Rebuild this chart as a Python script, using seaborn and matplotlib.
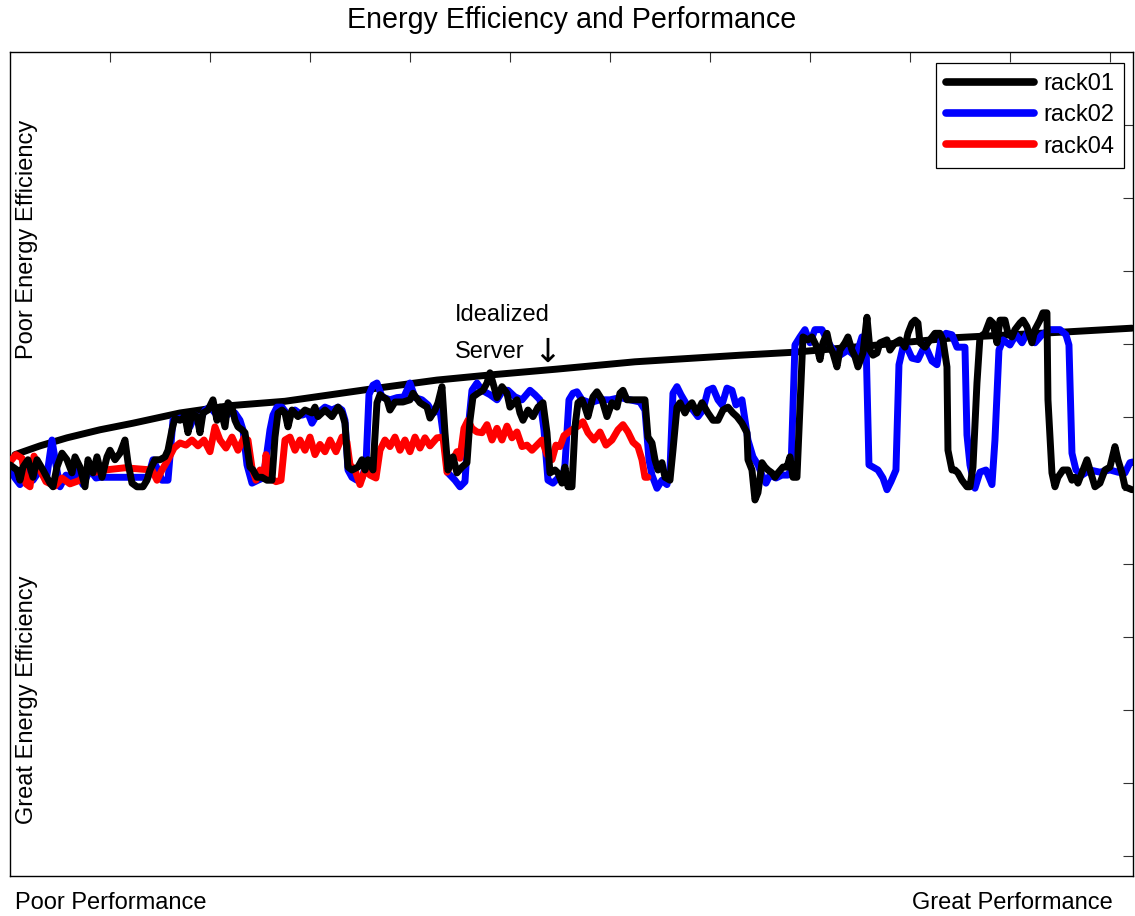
import matplotlib
matplotlib.use("Agg")
import matplotlib.pyplot as plt
import numpy as np
import pandas as pd
import seaborn as sns

# performance (x) / energy use (y) traces
rack01_perf = [
    0.000, 0.007, 0.010, 0.013, 0.018, 0.023, 0.027, 0.033, 0.040, 0.043,
    0.047, 0.052, 0.057, 0.062, 0.065, 0.070, 0.075, 0.078, 0.083, 0.087,
    0.092, 0.097, 0.100, 0.105, 0.110, 0.115, 0.118, 0.122, 0.127, 0.133,
    0.137, 0.140, 0.145, 0.150, 0.155, 0.158, 0.162, 0.165, 0.170, 0.175,
    0.178, 0.182, 0.187, 0.190, 0.193, 0.198, 0.203, 0.207, 0.210, 0.215,
    0.218, 0.222, 0.225, 0.228, 0.232, 0.235, 0.240, 0.243, 0.247, 0.252,
    0.257, 0.262, 0.265, 0.268, 0.272, 0.275, 0.278, 0.282, 0.288, 0.295,
    0.302, 0.305, 0.308, 0.315, 0.322, 0.328, 0.332, 0.335, 0.338, 0.342,
    0.348, 0.352, 0.355, 0.358, 0.363, 0.367, 0.370, 0.377, 0.380, 0.385,
    0.393, 0.400, 0.403, 0.410, 0.417, 0.420, 0.425, 0.428, 0.432, 0.435,
    0.438, 0.443, 0.447, 0.452, 0.457, 0.460, 0.463, 0.468, 0.473, 0.477,
    0.480, 0.483, 0.487, 0.492, 0.497, 0.500, 0.507, 0.510, 0.513, 0.518,
    0.523, 0.528, 0.533, 0.537, 0.540, 0.545, 0.548, 0.552, 0.555, 0.558,
    0.562, 0.565, 0.568, 0.572, 0.575, 0.578, 0.583, 0.587, 0.592, 0.597,
    0.602, 0.607, 0.610, 0.613, 0.617, 0.635, 0.638, 0.642, 0.645, 0.648,
    0.652, 0.655, 0.660, 0.663, 0.667, 0.670, 0.675, 0.678, 0.682, 0.687,
    0.692, 0.698, 0.703, 0.708, 0.713, 0.718, 0.723, 0.727, 0.732, 0.737,
    0.738, 0.742, 0.745, 0.748, 0.752, 0.755, 0.758, 0.762, 0.765, 0.768,
    0.773, 0.777, 0.780, 0.783, 0.787, 0.793, 0.798, 0.802, 0.807, 0.810,
    0.813, 0.817, 0.820, 0.823, 0.827, 0.830, 0.835, 0.838, 0.842, 0.845,
    0.848, 0.853, 0.857, 0.860, 0.863, 0.867, 0.870, 0.877, 0.880, 0.885,
    0.890, 0.895, 0.898, 0.902, 0.905, 0.908, 0.910, 0.915, 0.920, 0.925,
    0.930, 0.933, 0.937, 0.938, 0.942, 0.945, 0.948, 0.952, 0.957, 0.960,
    0.963, 0.967, 0.970, 0.975, 0.980, 0.983, 0.987, 0.990, 0.995, 0.998,
    1.002, 1.005, 1.010, 1.013, 1.017, 1.022, 1.025, 1.030, 1.033, 1.037,
    1.038, 1.042, 1.045, 1.048, 1.053, 1.058, 1.062, 1.065, 1.068, 1.073,
    1.077, 1.080, 1.085, 1.090, 1.095, 1.100, 1.105, 1.108, 1.112, 1.115,
    1.122,
]
rack01_eff = [
    0.535, 0.528, 0.514, 0.532, 0.542, 0.518, 0.542, 0.528, 0.510, 0.505,
    0.532, 0.551, 0.542, 0.524, 0.546, 0.532, 0.505, 0.542, 0.524, 0.546,
    0.518, 0.546, 0.555, 0.542, 0.551, 0.569, 0.538, 0.510, 0.505, 0.505,
    0.514, 0.528, 0.542, 0.542, 0.546, 0.555, 0.583, 0.599, 0.596, 0.601,
    0.579, 0.606, 0.601, 0.579, 0.606, 0.610, 0.624, 0.596, 0.614, 0.587,
    0.620, 0.614, 0.596, 0.587, 0.583, 0.579, 0.532, 0.528, 0.518, 0.518,
    0.514, 0.514, 0.573, 0.606, 0.610, 0.606, 0.587, 0.610, 0.601, 0.610,
    0.606, 0.614, 0.601, 0.610, 0.601, 0.614, 0.606, 0.592, 0.532, 0.528,
    0.532, 0.542, 0.528, 0.542, 0.528, 0.620, 0.631, 0.624, 0.610, 0.621,
    0.621, 0.624, 0.633, 0.620, 0.614, 0.599, 0.610, 0.620, 0.642, 0.579,
    0.528, 0.546, 0.524, 0.532, 0.538, 0.596, 0.628, 0.633, 0.637, 0.647,
    0.661, 0.647, 0.627, 0.642, 0.633, 0.614, 0.624, 0.606, 0.596, 0.610,
    0.601, 0.614, 0.620, 0.579, 0.524, 0.528, 0.524, 0.510, 0.532, 0.505,
    0.505, 0.587, 0.620, 0.624, 0.614, 0.601, 0.628, 0.635, 0.624, 0.601,
    0.620, 0.614, 0.633, 0.637, 0.624, 0.624, 0.573, 0.565, 0.542, 0.528,
    0.538, 0.518, 0.514, 0.555, 0.614, 0.620, 0.606, 0.614, 0.620, 0.606,
    0.620, 0.606, 0.596, 0.596, 0.610, 0.614, 0.606, 0.601, 0.592, 0.579,
    0.542, 0.528, 0.487, 0.497, 0.538, 0.532, 0.528, 0.524, 0.518, 0.524,
    0.532, 0.532, 0.546, 0.518, 0.518, 0.710, 0.706, 0.710, 0.696, 0.679,
    0.702, 0.715, 0.696, 0.688, 0.669, 0.692, 0.702, 0.710, 0.692, 0.683,
    0.669, 0.688, 0.737, 0.692, 0.685, 0.688, 0.702, 0.706, 0.692, 0.702,
    0.706, 0.696, 0.715, 0.729, 0.733, 0.729, 0.702, 0.696, 0.706, 0.715,
    0.715, 0.706, 0.669, 0.555, 0.528, 0.528, 0.524, 0.514, 0.505, 0.505,
    0.532, 0.647, 0.710, 0.715, 0.733, 0.729, 0.702, 0.733, 0.733, 0.715,
    0.710, 0.720, 0.729, 0.733, 0.724, 0.702, 0.720, 0.733, 0.743, 0.743,
    0.624, 0.524, 0.505, 0.518, 0.528, 0.528, 0.514, 0.518, 0.510, 0.528,
    0.542, 0.528, 0.505, 0.510, 0.528, 0.532, 0.560, 0.542, 0.524, 0.505,
    0.501,
]

rack02_perf = [
    0.000, 0.005, 0.010, 0.017, 0.023, 0.030, 0.037, 0.042, 0.046, 0.050,
    0.056, 0.062, 0.067, 0.073, 0.080, 0.086, 0.090, 0.100, 0.110, 0.120,
    0.130, 0.138, 0.143, 0.148, 0.152, 0.158, 0.163, 0.170, 0.175, 0.180,
    0.185, 0.190, 0.195, 0.200, 0.205, 0.210, 0.215, 0.220, 0.225, 0.230,
    0.233, 0.237, 0.242, 0.248, 0.253, 0.256, 0.260, 0.263, 0.267, 0.272,
    0.278, 0.285, 0.292, 0.298, 0.302, 0.308, 0.315, 0.322, 0.328, 0.332,
    0.335, 0.338, 0.342, 0.347, 0.352, 0.356, 0.359, 0.363, 0.367, 0.372,
    0.380, 0.387, 0.394, 0.400, 0.405, 0.412, 0.418, 0.423, 0.430, 0.434,
    0.438, 0.445, 0.450, 0.455, 0.459, 0.462, 0.467, 0.472, 0.480, 0.487,
    0.493, 0.498, 0.505, 0.512, 0.520, 0.525, 0.530, 0.534, 0.538, 0.543,
    0.548, 0.552, 0.555, 0.559, 0.563, 0.567, 0.572, 0.580, 0.590, 0.600,
    0.610, 0.620, 0.630, 0.635, 0.639, 0.642, 0.647, 0.652, 0.657, 0.660,
    0.663, 0.667, 0.671, 0.677, 0.683, 0.688, 0.693, 0.698, 0.703, 0.708,
    0.712, 0.717, 0.722, 0.726, 0.732, 0.735, 0.738, 0.743, 0.748, 0.752,
    0.756, 0.760, 0.766, 0.772, 0.778, 0.781, 0.785, 0.790, 0.795, 0.800,
    0.805, 0.812, 0.817, 0.823, 0.830, 0.838, 0.846, 0.852, 0.856, 0.859,
    0.863, 0.868, 0.873, 0.877, 0.881, 0.886, 0.889, 0.893, 0.897, 0.902,
    0.908, 0.915, 0.922, 0.927, 0.931, 0.936, 0.942, 0.947, 0.955, 0.957,
    0.960, 0.965, 0.970, 0.976, 0.982, 0.985, 0.989, 0.993, 1.000, 1.006,
    1.012, 1.018, 1.025, 1.032, 1.040, 1.050, 1.056, 1.059, 1.062, 1.066,
    1.072, 1.080, 1.090, 1.100, 1.108, 1.115, 1.120, 1.123,
]
rack02_eff = [
    0.528, 0.517, 0.508, 0.528, 0.514, 0.528, 0.521, 0.569, 0.535, 0.505,
    0.521, 0.514, 0.528, 0.508, 0.528, 0.517, 0.518, 0.518, 0.518, 0.518,
    0.518, 0.518, 0.542, 0.528, 0.514, 0.514, 0.596, 0.599, 0.596, 0.587,
    0.603, 0.596, 0.610, 0.614, 0.606, 0.610, 0.601, 0.606, 0.606, 0.596,
    0.583, 0.535, 0.510, 0.514, 0.517, 0.542, 0.583, 0.603, 0.614, 0.614,
    0.603, 0.610, 0.603, 0.606, 0.592, 0.606, 0.614, 0.610, 0.614, 0.610,
    0.596, 0.528, 0.518, 0.514, 0.517, 0.535, 0.631, 0.644, 0.647, 0.628,
    0.624, 0.627, 0.628, 0.647, 0.627, 0.624, 0.617, 0.606, 0.610, 0.569,
    0.524, 0.514, 0.505, 0.512, 0.596, 0.637, 0.647, 0.637, 0.631, 0.624,
    0.637, 0.637, 0.628, 0.624, 0.637, 0.631, 0.624, 0.583, 0.514, 0.510,
    0.517, 0.514, 0.535, 0.624, 0.633, 0.635, 0.624, 0.620, 0.624, 0.624,
    0.627, 0.624, 0.621, 0.610, 0.542, 0.521, 0.503, 0.514, 0.508, 0.528,
    0.633, 0.642, 0.631, 0.617, 0.610, 0.601, 0.610, 0.637, 0.640, 0.624,
    0.617, 0.640, 0.637, 0.617, 0.624, 0.596, 0.569, 0.546, 0.535, 0.521,
    0.510, 0.521, 0.517, 0.521, 0.521, 0.528, 0.699, 0.710, 0.720, 0.702,
    0.720, 0.720, 0.706, 0.692, 0.685, 0.692, 0.683, 0.710, 0.706, 0.535,
    0.532, 0.528, 0.517, 0.501, 0.512, 0.528, 0.672, 0.696, 0.696, 0.681,
    0.679, 0.699, 0.677, 0.672, 0.706, 0.715, 0.713, 0.696, 0.696, 0.576,
    0.535, 0.503, 0.525, 0.528, 0.508, 0.569, 0.692, 0.706, 0.699, 0.713,
    0.702, 0.717, 0.702, 0.713, 0.720, 0.720, 0.713, 0.699, 0.551, 0.528,
    0.521, 0.528, 0.525, 0.528, 0.525, 0.524, 0.538, 0.539,
]

rack04_perf = [
    0.000, 0.006, 0.012, 0.016, 0.020, 0.024, 0.030, 0.036, 0.045, 0.052,
    0.060, 0.070, 0.078, 0.086, 0.095, 0.115, 0.142, 0.147, 0.152, 0.158,
    0.164, 0.170, 0.176, 0.182, 0.188, 0.194, 0.200, 0.205, 0.210, 0.216,
    0.222, 0.228, 0.234, 0.238, 0.242, 0.246, 0.250, 0.254, 0.256, 0.260,
    0.266, 0.271, 0.275, 0.280, 0.285, 0.290, 0.295, 0.300, 0.305, 0.310,
    0.315, 0.320, 0.326, 0.332, 0.337, 0.340, 0.345, 0.350, 0.355, 0.360,
    0.366, 0.370, 0.375, 0.380, 0.385, 0.390, 0.395, 0.400, 0.405, 0.410,
    0.415, 0.420, 0.427, 0.433, 0.437, 0.442, 0.447, 0.450, 0.454, 0.458,
    0.462, 0.467, 0.472, 0.477, 0.482, 0.487, 0.492, 0.497, 0.502, 0.507,
    0.512, 0.517, 0.522, 0.527, 0.532, 0.537, 0.542, 0.546, 0.550, 0.554,
    0.558, 0.562, 0.568, 0.573, 0.578, 0.584, 0.590, 0.596, 0.602, 0.608,
    0.613, 0.618, 0.623, 0.628, 0.632, 0.635, 0.638,
]
rack04_eff = [
    0.539, 0.549, 0.544, 0.509, 0.505, 0.547, 0.528, 0.512, 0.506, 0.517,
    0.509, 0.514, 0.528, 0.525, 0.528, 0.531, 0.528, 0.514, 0.528, 0.542,
    0.558, 0.565, 0.562, 0.569, 0.561, 0.569, 0.553, 0.587, 0.569, 0.558,
    0.573, 0.555, 0.572, 0.569, 0.531, 0.514, 0.528, 0.517, 0.549, 0.517,
    0.512, 0.514, 0.569, 0.573, 0.555, 0.569, 0.555, 0.573, 0.549, 0.563,
    0.553, 0.569, 0.553, 0.573, 0.566, 0.535, 0.528, 0.508, 0.528, 0.521,
    0.517, 0.555, 0.569, 0.560, 0.573, 0.555, 0.569, 0.553, 0.573, 0.558,
    0.572, 0.561, 0.572, 0.573, 0.525, 0.539, 0.553, 0.544, 0.585, 0.596,
    0.585, 0.580, 0.579, 0.590, 0.569, 0.585, 0.569, 0.588, 0.572, 0.580,
    0.560, 0.562, 0.555, 0.562, 0.569, 0.549, 0.542, 0.562, 0.560, 0.575,
    0.579, 0.583, 0.588, 0.594, 0.579, 0.569, 0.580, 0.562, 0.569, 0.583,
    0.590, 0.580, 0.566, 0.560, 0.542, 0.518, 0.518,
]

ideal_perf = [0.005, 0.030, 0.057, 0.090, 0.123, 0.170, 0.220, 0.275, 0.362, 0.427,
              0.480, 0.547, 0.625, 0.730, 0.783, 0.860, 0.945, 1.058, 1.122]
ideal_eff = [0.549, 0.561, 0.572, 0.583, 0.592, 0.606, 0.616, 0.622, 0.639, 0.651,
             0.658, 0.666, 0.676, 0.685, 0.689, 0.698, 0.709, 0.717, 0.722]

sns.set_style("white")
plt.rcParams["font.family"] = ["Liberation Sans", "DejaVu Sans"]
plt.rcParams["text.color"] = "black"

FS = 17
fig = plt.figure(figsize=(11.35, 9.16), dpi=100)
ax = fig.add_axes([0.0088, 0.0437, 0.9894, 0.8996])

lw = 5.0
sns.lineplot(x=ideal_perf, y=ideal_eff, color="black", lw=lw, ax=ax,
             sort=False, estimator=None, zorder=1, legend=False)
sns.lineplot(x=rack02_perf, y=rack02_eff, color="#0000ff", lw=lw, ax=ax,
             sort=False, estimator=None, zorder=2, label="rack02")
sns.lineplot(x=rack04_perf, y=rack04_eff, color="#ff0000", lw=lw, ax=ax,
             sort=False, estimator=None, zorder=3, label="rack04")
sns.lineplot(x=rack01_perf, y=rack01_eff, color="black", lw=lw, ax=ax,
             sort=False, estimator=None, zorder=4, label="rack01")

ax.set_xlim(0, 1.123)
ax.set_ylim(-0.0274, 1.0999)
ax.set_xticks(np.arange(0.1, 1.15, 0.1))
ax.set_yticks(np.arange(0, 1.05, 0.1))
ax.tick_params(direction="in", length=7, width=0.8, color="#333333",
               top=True, right=True, labelbottom=False, labelleft=False)
for s in ax.spines.values():
    s.set_color("black")
    s.set_linewidth(1.0)
ax.set_xlabel("")
ax.set_ylabel("")

handles, labels = ax.get_legend_handles_labels()
order = [labels.index(n) for n in ["rack01", "rack02", "rack04"]]
leg = ax.legend([handles[i] for i in order], [labels[i] for i in order],
                loc="upper right", bbox_to_anchor=(0.992, 0.9867),
                borderaxespad=0, fontsize=FS, frameon=True, fancybox=False,
                framealpha=1, edgecolor="black", handlelength=3.7,
                handletextpad=0.4, labelspacing=0.4, borderpad=0.42)
leg.get_frame().set_linewidth(0.9)
for ln in leg.get_lines():
    ln.set_linewidth(5.5)

ax.text(0.5, 1.0388, "Energy Efficiency and Performance", transform=ax.transAxes,
        ha="center", va="center", fontsize=20.6)
ax.text(0.0045, -0.0328, "Poor Performance", transform=ax.transAxes,
        ha="left", va="center", fontsize=FS)
ax.text(0.982, -0.0328, "Great Performance", transform=ax.transAxes,
        ha="right", va="center", fontsize=FS)
ax.text(0.0151, 0.772, "Poor Energy Efficiency", transform=ax.transAxes,
        ha="center", va="center", rotation=90, fontsize=FS)
ax.text(0.0151, 0.2136, "Great Energy Efficiency", transform=ax.transAxes,
        ha="center", va="center", rotation=90, fontsize=FS)
ax.text(0.445, 0.740, "Idealized", ha="left", va="center", fontsize=FS)
server = ax.text(0.445, 0.689, "Server", ha="left", va="center", fontsize=FS)
ax.annotate("\u2193", xy=(1, 0.5), xycoords=server, xytext=(6, 0),
            textcoords="offset points", ha="left", va="center",
            fontsize=24, family=["DejaVu Sans"])

fig.savefig("out.png", dpi=100)
